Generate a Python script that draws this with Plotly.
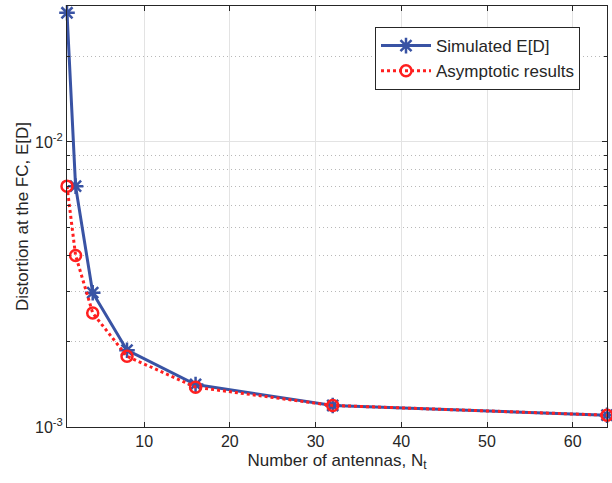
import plotly.graph_objects as go

antennas = [1, 2, 4, 8, 16, 32, 64]
simulated = [0.0284, 0.0070, 0.00296, 0.00186, 0.00141, 0.00119, 0.00110]
asymptotic = [0.0070, 0.0040, 0.00251, 0.00177, 0.00138, 0.00119, 0.00110]
x_ticks = [10, 20, 30, 40, 50, 60]
y_ticks = [0.001, 0.01]
y_ticktext = ["10<sup>-3</sup>", "10<sup>-2</sup>"]
y_minor = [0.002, 0.003, 0.004, 0.005, 0.006, 0.007, 0.008, 0.009, 0.02, 0.03]

blue = "#3953A4"
red = "#FF1F1F"
font_family = "Liberation Sans, Arial"
text_color = "#262626"

fig = go.Figure()
fig.add_trace(go.Scatter(
    x=antennas, y=simulated, name="Simulated E[D]", mode="lines+markers",
    line=dict(color=blue, width=3), cliponaxis=False,
    marker=dict(symbol="asterisk-open", size=13, color=blue, line=dict(color=blue, width=2.5)),
))
fig.add_trace(go.Scatter(
    x=antennas, y=asymptotic, name="Asymptotic results", mode="lines+markers",
    line=dict(color=red, width=3, dash="dot"), cliponaxis=False,
    marker=dict(symbol="circle-open", size=11, color=red, line=dict(color=red, width=2.5)),
))

axis_common = dict(
    showline=True, linecolor=text_color, linewidth=1, mirror="allticks",
    ticks="inside", tickcolor=text_color, ticklen=5,
    showgrid=True, gridcolor="#E3E3E3", gridwidth=1, zeroline=False,
    automargin=False,
    tickfont=dict(family=font_family, size=16, color=text_color),
)

fig.update_xaxes(
    range=[1, 64], tickvals=x_ticks,
    title=dict(text="Number of antennas, N<sub>t</sub>", standoff=4,
               font=dict(family=font_family, size=17, color=text_color)),
    **axis_common,
)
fig.update_yaxes(
    type="log", range=[-3, 1.477121 - 3],
    tickvals=y_ticks, ticktext=y_ticktext,
    title=dict(text="Distortion at the FC, E[D]", standoff=2,
               font=dict(family=font_family, size=17, color=text_color)),
    minor=dict(tickvals=y_minor, showgrid=True, gridcolor="#B8B8B8", griddash="1px,3px",
               ticks="inside", ticklen=3, tickcolor=text_color),
    **axis_common,
)

fig.update_layout(
    width=612, height=483,
    margin=dict(l=67, r=5, t=6, b=56),
    paper_bgcolor="white", plot_bgcolor="white",
    showlegend=True,
    legend=dict(
        x=0.95, y=0.95, xanchor="right", yanchor="top",
        bgcolor="white", bordercolor=text_color, borderwidth=1,
        font=dict(family=font_family, size=17, color=text_color),
        tracegroupgap=0, itemwidth=50,
    ),
)

fig.write_html("out.html", config={"displayModeBar": False},
               post_script="document.body.style.margin='0';")
